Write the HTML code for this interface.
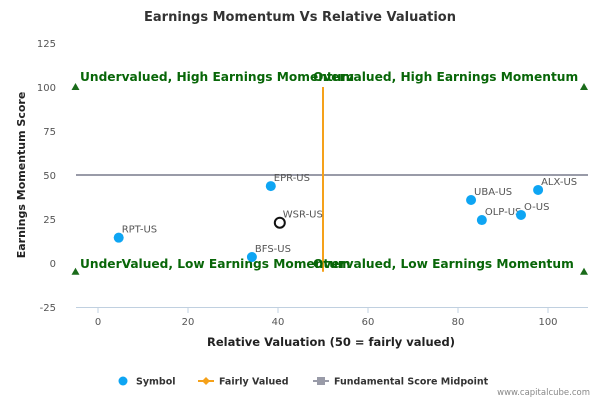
<!DOCTYPE html>
<html><head><meta charset="utf-8"><style>
body{margin:0;background:#fff;font-family:"DejaVu Sans","Liberation Sans",sans-serif}
svg text{font-family:"DejaVu Sans","Liberation Sans",sans-serif}
</style></head><body>
<svg id="c" width="600" height="400">
<text x="300" y="21" text-anchor="middle" font-size="13" font-weight="bold" fill="#333">Earnings Momentum Vs Relative Valuation</text>
<g id="grid"></g><g id="marks"></g>
<text transform="translate(25,175) rotate(-90)" text-anchor="middle" font-size="11" font-weight="bold" fill="#222">Earnings Momentum Score</text>
<text x="331" y="346" text-anchor="middle" font-size="11.5" font-weight="bold" fill="#222">Relative Valuation (50 = fairly valued)</text>
<g font-size="9.5" font-weight="bold" fill="#333">
<g><circle cx="123" cy="381" r="4.5" fill="#0ea5f3"/><text x="136" y="384.5">Symbol</text></g>
<g><line x1="198" y1="381" x2="214" y2="381" stroke="#f5a11a" stroke-width="2"/><path d="M206 377l4 4-4 4-4-4z" fill="#f5a11a"/><text x="219" y="384.5">Fairly Valued</text></g>
<g><line x1="313" y1="381" x2="329" y2="381" stroke="#999ba8" stroke-width="2"/><rect x="317" y="377" width="8" height="8" fill="#999ba8"/><text x="334" y="384.5">Fundamental Score Midpoint</text></g>
</g>
<text x="590" y="395" text-anchor="end" font-size="8.5" fill="#888">www.capitalcube.com</text>
</svg>
<script>
const names=["RPT-US","BFS-US","EPR-US","WSR-US","UBA-US","OLP-US","O-US","ALX-US"];
const xVals=[4.6,34.2,38.4,40.4,82.9,85.3,94.0,97.8];
const yVals=[14.4,3.4,43.7,22.9,35.8,24.4,27.3,41.5];
const xTicks=[0,20,40,60,80,100];
const yTicks=[-25,0,25,50,75,100,125];
const X=v=>98+4.5*v, Y=v=>263-1.76*v;
const NS="http://www.w3.org/2000/svg";
const g=document.getElementById('grid'),m=document.getElementById('marks');
function mk(p,t,a,txt){const e=document.createElementNS(NS,t);for(const k in a)e.setAttribute(k,a[k]);if(txt!=null)e.textContent=txt;p.appendChild(e);return e;}
let ax=mk(g,'line',{x1:76,x2:588,y1:307.5,y2:307.5,stroke:'#c0d0e0'});


xTicks.forEach(v=>{
 let t=mk(g,'line',{x1:X(v),x2:X(v),y1:307,y2:313,stroke:'#c0d0e0'});
 
 
 let l=mk(g,'text',{x:X(v),y:325,'text-anchor':'middle','font-size':10,fill:'#555'},v);
 
 
});
yTicks.forEach(v=>{
 let l=mk(g,'text',{x:56,y:Y(v)+4,'text-anchor':'end','font-size':10,fill:'#555'},v);
 
 
});
let mid=mk(m,'line',{x1:76,x2:588,y1:Y(50),y2:Y(50),stroke:'#999ba8',"stroke-width":2});


let fv=mk(m,'line',{x1:X(50),x2:X(50),y1:Y(100),y2:Y(-5),stroke:'#f5a11a',"stroke-width":2});


[[-5,100],[-5,-5],[108,100],[108,-5]].forEach(p=>{
 const x=X(p[0]),y=Y(p[1]);
 let t=mk(m,'path',{d:`M${x} ${y-4}l4 7h-8z`,fill:'#1a6b1a'});
 
 
});
const quads=[["Undervalued, High Earnings Momentum",80,81],["Overvalued, High Earnings Momentum",313,81],["UnderValued, Low Earnings Momentum",80,268],["Overvalued, Low Earnings Momentum",313,268]];
quads.forEach(q=>{
 let t=mk(m,'text',{x:q[1],y:q[2],'font-size':12.2,'font-weight':'bold',fill:'#086608'},q[0]);
 
 
});
names.forEach((n,i)=>{
 const x=X(xVals[i]),y=Y(yVals[i]);
 let c;
 if(n==="WSR-US") c=mk(m,'circle',{cx:x,cy:y,r:5,fill:'#fff',stroke:'#111','stroke-width':2});
 else c=mk(m,'circle',{cx:x,cy:y,r:5,fill:'#0ea5f3'});
 
 
 let l=mk(m,'text',{x:x+3,y:y-5,'font-size':10,fill:'#555'},n);
 
 
});
</script>
</body></html>
